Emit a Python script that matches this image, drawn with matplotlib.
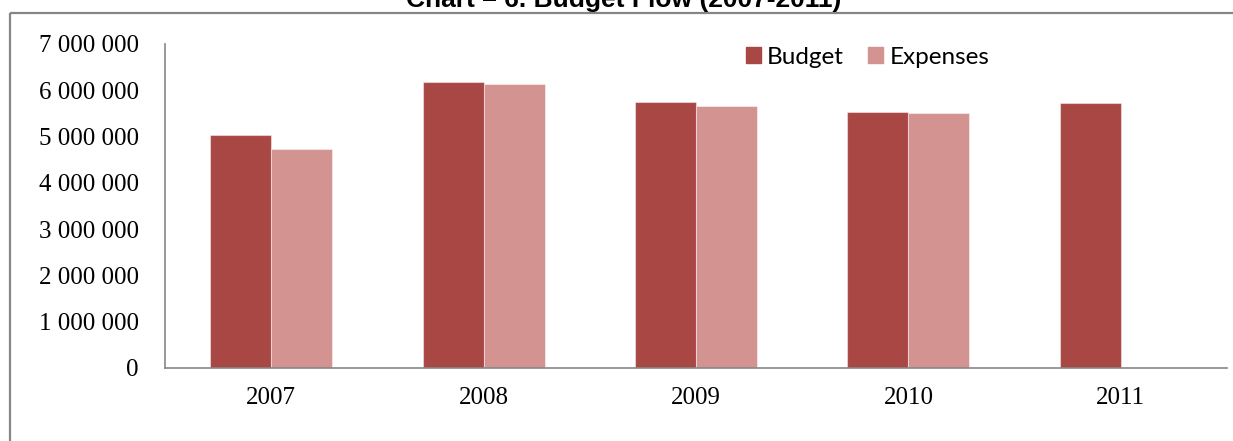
import matplotlib
matplotlib.use("Agg")
import matplotlib.pyplot as plt
from matplotlib.patches import Patch
from matplotlib.lines import Line2D
from matplotlib.ticker import FuncFormatter
import numpy as np

years = ["2007", "2008", "2009", "2010", "2011"]
budget = [5030000, 6180000, 5740000, 5540000, 5720000]
expenses = [4740000, 6130000, 5670000, 5520000, np.nan]
yticks = [0, 1000000, 2000000, 3000000, 4000000, 5000000, 6000000, 7000000]
title = "Chart – 6. Budget Flow (2007-2011)"

c_budget = "#A94744"
c_exp = "#D29391"
grey = "#868686"

W, H = 1233, 441
fig = plt.figure(figsize=(W / 100, H / 100), dpi=100)
fig.patch.set_facecolor("white")

# outer frame lines (top and left)
fig.add_artist(Line2D([10 / W, 1.0], [1 - 12.5 / H, 1 - 12.5 / H], color=grey, lw=1.6,
                      solid_capstyle="butt", transform=fig.transFigure))
fig.add_artist(Line2D([10 / W, 10 / W], [0, 1 - 12.5 / H], color=grey, lw=1.6,
                      solid_capstyle="butt", transform=fig.transFigure))

# title (partly cut off by the top edge, as in the source image)
fig.text(624 / W, 1 - 7 / H, title, ha="center", va="baseline",
         fontsize=19, fontweight="bold", family="Liberation Sans", color="black")

ax = fig.add_axes([165 / W, 1 - 368 / H, (1227 - 165) / W, 324 / H])
x = np.arange(len(years))
bw = 0.2875
ax.bar(x - bw / 2, budget, bw, color=c_budget, edgecolor=(1, 1, 1, 0.45), linewidth=0.8)
ax.bar(x + bw / 2, expenses, bw, color=c_exp, edgecolor=(1, 1, 1, 0.45), linewidth=0.8)

ax.set_xlim(-0.5, len(years) - 0.5)
ax.set_ylim(0, 7000000)
ax.set_yticks(yticks)
ax.yaxis.set_major_formatter(FuncFormatter(lambda v, p: f"{int(v):,}".replace(",", " ")))
ax.set_xticks(x)
ax.set_xticklabels(years)

for s in ["top", "right"]:
    ax.spines[s].set_visible(False)
for s in ["left", "bottom"]:
    ax.spines[s].set_color(grey)
    ax.spines[s].set_linewidth(1.2)

ax.tick_params(axis="y", length=0, pad=19, labelsize=18)
ax.tick_params(axis="x", length=0, pad=14, labelsize=18)
for lab in ax.get_xticklabels() + ax.get_yticklabels():
    lab.set_family("Liberation Serif")

handles = [Patch(facecolor=c_budget, edgecolor=c_budget),
           Patch(facecolor=c_exp, edgecolor=c_exp)]
leg = fig.legend(handles, ["Budget", "Expenses"], ncol=2, frameon=False,
                 loc="center left", bbox_to_anchor=(746 / W, 1 - 57 / H),
                 bbox_transform=fig.transFigure, borderpad=0, borderaxespad=0,
                 handlelength=0.62, handleheight=0.62, handletextpad=0.25,
                 columnspacing=1.0, prop={"family": "Lato", "size": 17.5})

fig.savefig("out.png", dpi=100, facecolor="white")
